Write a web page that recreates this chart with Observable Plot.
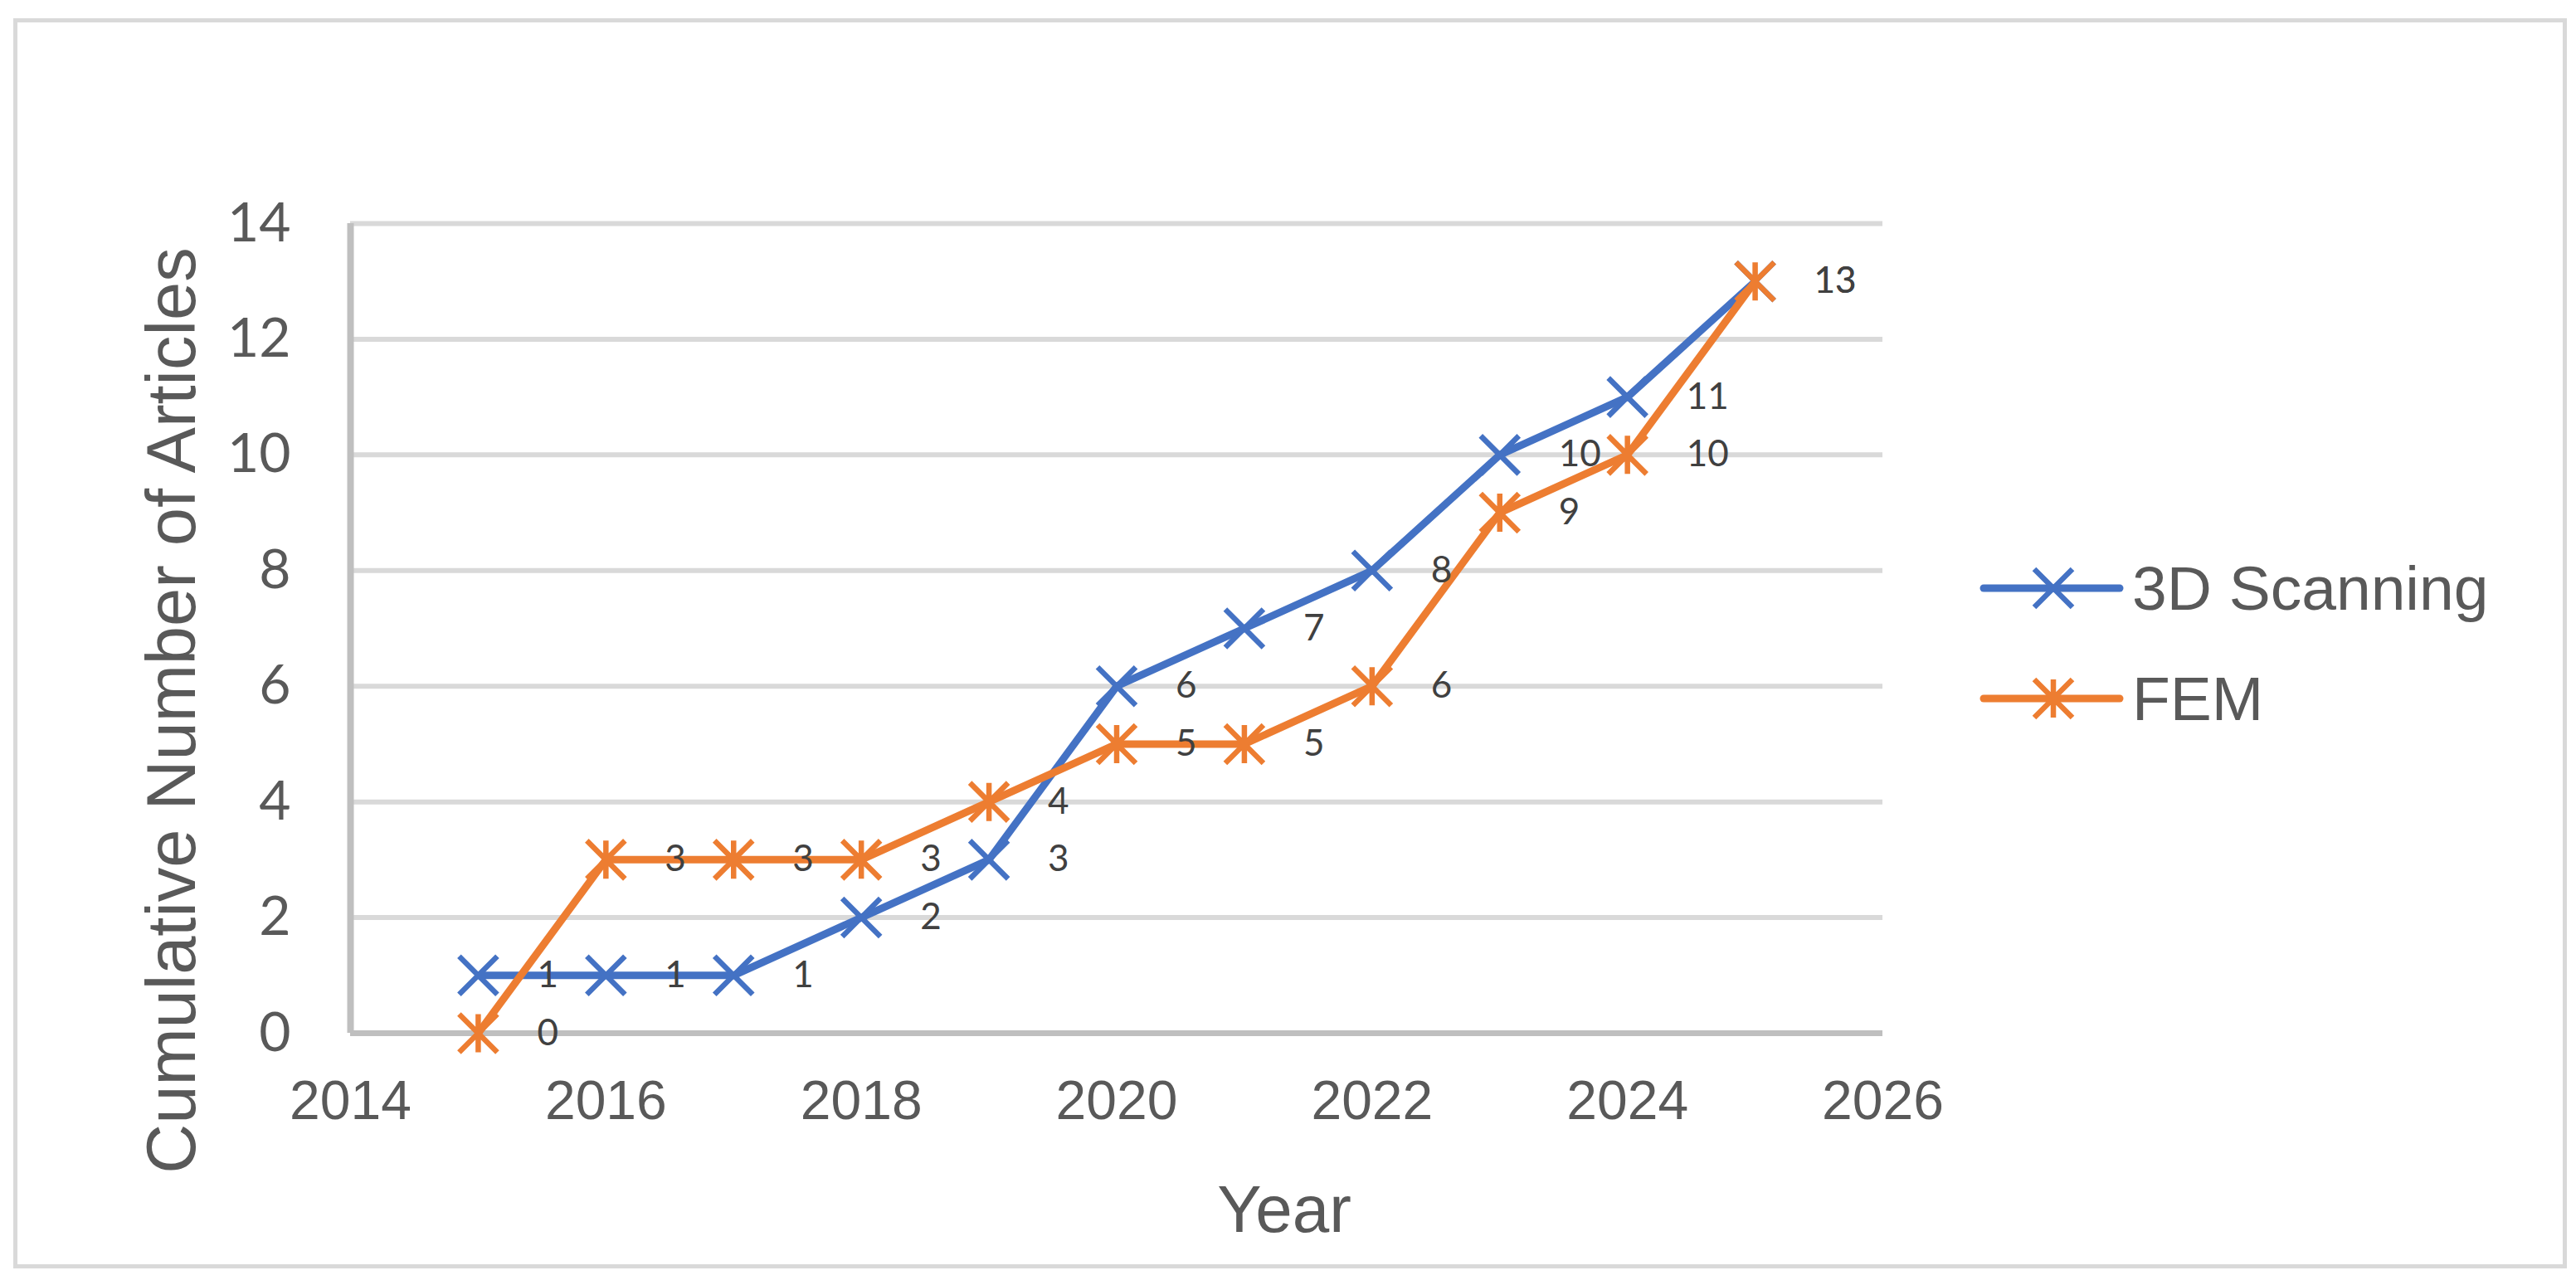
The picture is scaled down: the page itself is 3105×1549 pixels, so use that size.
<!DOCTYPE html>
<html>
<head>
<meta charset="utf-8">
<script src="https://cdn.jsdelivr.net/npm/d3@7"></script>
<script src="https://cdn.jsdelivr.net/npm/@observablehq/plot@0.6"></script>
<style>
  html, body { margin: 0; padding: 0; background: #ffffff; }
  #wrap { position: relative; width: 3105px; height: 1549px; overflow: hidden; background: #fff; }
  #border { position: absolute; left: 16px; top: 22px; width: 3078px; height: 1507px; box-sizing: border-box; border: 5px solid #D9D9D9; pointer-events: none; }
  #chart { position: absolute; left: 0; top: 0; }
  .legrow { position: absolute; left: 2385px; height: 80px; display: flex; align-items: center; }
  .legrow span { font-family: "Liberation Sans", Arial, sans-serif; font-size: 75px; line-height: 80px; color: #595959; margin-left: 9px; white-space: nowrap; }
</style>
</head>
<body>
<div id="wrap">
  <div id="chart"></div>
  <div id="legend"></div>
  <div id="border"></div>
</div>
<script>
// ---- data ----
const years = [2015, 2016, 2017, 2018, 2019, 2020, 2021, 2022, 2023, 2024, 2025];
const scanning = [1, 1, 1, 2, 3, 6, 7, 8, 10, 11, 13];
const fem = [0, 3, 3, 3, 4, 5, 5, 6, 9, 10, 13];
const seriesNames = ["3D Scanning", "FEM"];
const seriesColors = ["#4472C4", "#ED7D31"];
const xTicks = [2014, 2016, 2018, 2020, 2022, 2024, 2026];
const yTicks = [0, 2, 4, 6, 8, 10, 12, 14];
const xTitle = "Year";
const yTitle = "Cumulative Number of Articles";

// ---- build rows ----
const rowsScan = years.map((year, i) => ({year, value: scanning[i], series: seriesNames[0]}));
const rowsFem = years.map((year, i) => ({year, value: fem[i], series: seriesNames[1]}));

// ---- marker symbols ----
const xSymbol = {
  draw(ctx, size) {
    const r = Math.sqrt(size / Math.PI);
    ctx.moveTo(-r, -r); ctx.lineTo(r, r);
    ctx.moveTo(r, -r); ctx.lineTo(-r, r);
  }
};
const starSymbol = {
  draw(ctx, size) {
    const r = Math.sqrt(size / Math.PI);
    ctx.moveTo(-r, -r); ctx.lineTo(r, r);
    ctx.moveTo(r, -r); ctx.lineTo(-r, r);
    ctx.moveTo(0, -r); ctx.lineTo(0, r);
  }
};

const W = 3105, H = 1549;
const labelStyle = {fontSize: 44, fontFamily: "Lato", fill: "#404040", textAnchor: "start", dx: 71, lineAnchor: "middle"};

const chart = Plot.plot({
  width: W,
  height: H,
  marginLeft: 422,
  marginRight: 836,
  marginTop: 269,
  marginBottom: 304,
  style: {fontFamily: "Liberation Sans, Arial, sans-serif", background: "transparent", color: "#595959"},
  x: {domain: [2014, 2026]},
  y: {domain: [0, 14]},
  marks: [
    Plot.gridY(yTicks, {stroke: "#D9D9D9", strokeOpacity: 1, strokeWidth: 6}),
    Plot.ruleY([0], {stroke: "#BFBFBF", strokeWidth: 7}),
    Plot.ruleX([2014], {stroke: "#BFBFBF", strokeWidth: 8}),
    Plot.axisX({ticks: xTicks, tickSize: 0, tickPadding: 57, fontSize: 66, tickFormat: d => String(d), label: null, color: "#595959"}),
    Plot.axisY({ticks: yTicks, tickSize: 0, tickPadding: 72, fontSize: 66, fontFamily: "Lato", label: null, color: "#595959"}),
    Plot.line(rowsScan, {x: "year", y: "value", stroke: seriesColors[0], strokeWidth: 9, strokeLinejoin: "round", strokeLinecap: "round"}),
    Plot.dot(rowsScan, {x: "year", y: "value", symbol: xSymbol, r: 23, fill: "none", stroke: seriesColors[0], strokeWidth: 6.5}),
    Plot.line(rowsFem, {x: "year", y: "value", stroke: seriesColors[1], strokeWidth: 9, strokeLinejoin: "round", strokeLinecap: "round"}),
    Plot.dot(rowsFem, {x: "year", y: "value", symbol: starSymbol, r: 23, fill: "none", stroke: seriesColors[1], strokeWidth: 6.5}),
    Plot.text(rowsScan, {x: "year", y: "value", text: d => String(d.value), ...labelStyle}),
    Plot.text(rowsFem, {x: "year", y: "value", text: d => String(d.value), ...labelStyle}),
    Plot.text([yTitle], {frameAnchor: "left", text: d => d, rotate: -90, textAnchor: "middle", lineAnchor: "middle", dx: -214, dy: 99, fontSize: 83, fill: "#595959"}),
    Plot.text([xTitle], {frameAnchor: "bottom", text: d => d, textAnchor: "middle", lineAnchor: "middle", dx: 202, dy: 214, fontSize: 80, fill: "#595959"})
  ]
});
document.getElementById("chart").appendChild(chart);

// ---- legend ----
const legend = d3.select("#legend");
const legendTops = [669, 802];
const symbols = [xSymbol, starSymbol];
seriesNames.forEach((name, i) => {
  const row = legend.append("div").attr("class", "legrow").style("top", legendTops[i] + "px");
  const svg = row.append("svg").attr("width", 176).attr("height", 80);
  svg.append("line").attr("x1", 6).attr("x2", 170).attr("y1", 40).attr("y2", 40)
    .attr("stroke", seriesColors[i]).attr("stroke-width", 9).attr("stroke-linecap", "round");
  const p = d3.path();
  symbols[i].draw(p, Math.PI * 23 * 23);
  svg.append("path").attr("d", p.toString()).attr("transform", "translate(90,40)")
    .attr("fill", "none").attr("stroke", seriesColors[i]).attr("stroke-width", 6.5);
  row.append("span").text(name);
});
</script>
</body>
</html>
